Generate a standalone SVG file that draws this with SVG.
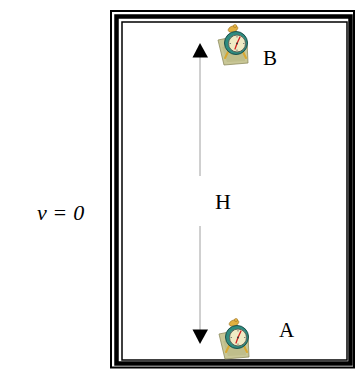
<svg xmlns="http://www.w3.org/2000/svg" xmlns:xlink="http://www.w3.org/1999/xlink" width="356" height="369" viewBox="0 0 356 369">
<style>
.frame{fill:none;stroke:#000}
.lbl{font-family:"Liberation Serif","Times New Roman",serif;fill:#000}
.it{font-style:italic}
.conn{stroke:#a0a0a0;stroke-width:1;fill:none}
</style>
<defs>
<symbol id="clock" overflow="visible">
<polygon points="-18,-3 -3,-6 11,-2 12,20 -12,22" fill="#c9c796" stroke="#8e8c5e" stroke-width="0.8"/>
<polygon points="-14,4 -3,2 8,4 9,18 -9,19" fill="#b9b784" opacity="0.6"/>
<path d="M-8,9 L-11,15 M7,9 L10,15" stroke="#d9a830" stroke-width="2" stroke-linecap="round"/>
<ellipse cx="-3" cy="-14" rx="5" ry="3" transform="rotate(-20 -3 -14)" fill="#e2b040" stroke="#9a7020" stroke-width="0.6"/>
<circle cx="-1" cy="-17" r="1.6" fill="#e2b040" stroke="#9a7020" stroke-width="0.5"/>
<circle cx="0" cy="0" r="11.5" fill="#2f8c80" stroke="#1e4f4a" stroke-width="1"/>
<circle cx="1" cy="0.5" r="8.5" fill="#efeac4" stroke="#5a5a50" stroke-width="0.9"/>
<g stroke="#555" stroke-width="0.7">
<path d="M1,-7 V-5.5 M1,8 V6.5 M-6.5,0.5 H-5 M8.5,0.5 H7"/>
</g>
<path d="M1,0.5 L4,-6 M1,0.5 L-1,6" stroke="#d42020" stroke-width="1.3" stroke-linecap="round"/>
<circle cx="1" cy="0.5" r="0.9" fill="#333"/>
</symbol>
</defs>
<g id="frame">
<rect class="frame" x="111" y="11" width="243" height="356.5" stroke-width="2"/>
<rect class="frame" x="116.5" y="16.5" width="234" height="347" stroke-width="4.5"/>
<rect class="frame" x="122" y="22" width="225" height="338" stroke-width="1.5"/>
</g>
<g id="connectors">
<line class="conn" x1="200" y1="57" x2="200" y2="176"/>
<line class="conn" x1="200" y1="226" x2="200" y2="330"/>
<polygon points="200,43 192.5,57.5 208,57.5" fill="#000"/>
<polygon points="200,344 192.5,329.5 208,329.5" fill="#000"/>
</g>
<g id="nodeB">
<use xlink:href="#clock" x="236" y="43"/>
<text class="lbl" x="263" y="65" font-size="21">B</text>
</g>
<g id="nodeA">
<use xlink:href="#clock" x="237" y="337"/>
<text class="lbl" x="279" y="337" font-size="21">A</text>
</g>
<g id="labelH">
<text class="lbl" x="215" y="209" font-size="22">H</text>
</g>
<g id="labelV">
<text class="lbl" x="37" y="220" font-size="22"><tspan class="it">v</tspan><tspan dx="7">=</tspan><tspan class="it" dx="7">0</tspan></text>
</g>
</svg>
